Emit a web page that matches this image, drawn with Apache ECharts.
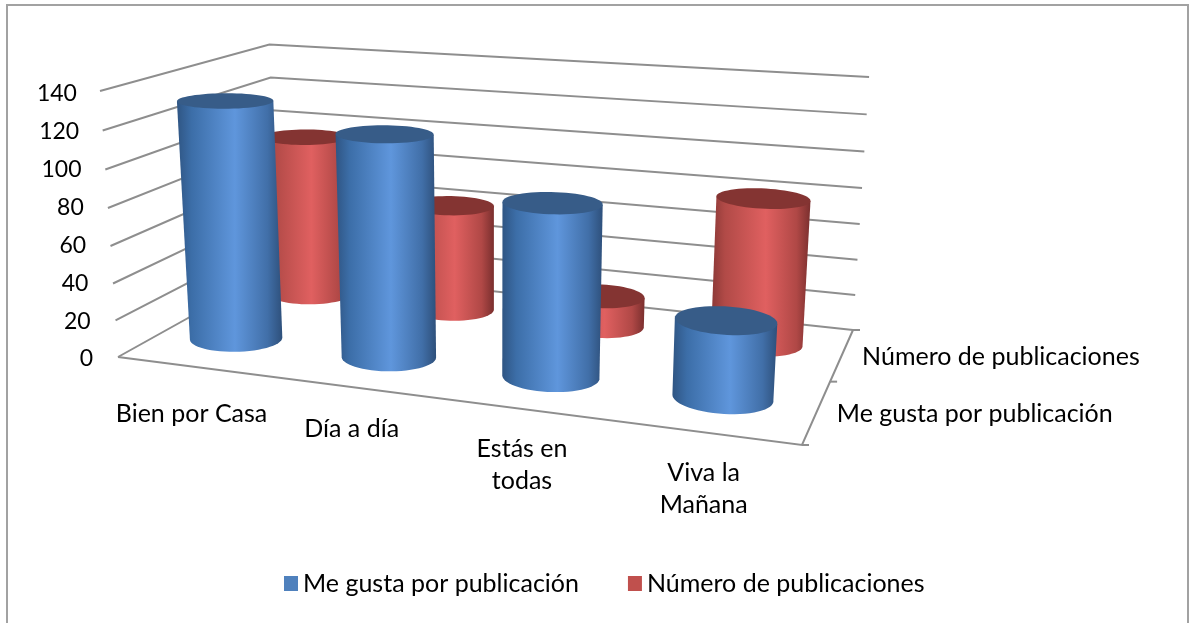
<!DOCTYPE html>
<html>
<head>
<meta charset="utf-8">
<style>
  html, body { margin: 0; padding: 0; background: #fff; }
  #chart { width: 1189px; height: 623px; }
</style>
<script src="https://cdn.jsdelivr.net/npm/echarts@6/dist/echarts.min.js"></script>
</head>
<body>
<div id="chart"></div>
<script>
const categories = ['Bien por Casa', 'Día a día', 'Estás en\ntodas', 'Viva la\nMañana']
const seriesNames = ['Me gusta por publicación', 'Número de publicaciones']
const meGusta = [130, 119, 91, 40]
const publicaciones = [94, 61, 17, 80]
const yTicks = [0, 20, 40, 60, 80, 100, 120, 140]

const FONT = 'Lato, "Open Sans", sans-serif'
const FONT_SIZE = 25
const TICK_FONT_SIZE = 23
const AXIS_COLOR = '#8e8e8e'

// floor corners on screen: [front left, front right, back right, back left]
const floorQuad = [[118, 357], [802, 445], [853, 330], [278, 268]]
// where the vertical edges meet, and how fast height runs towards it
const vertVanish = [497, 5958]
const heightScale = -0.04534
// the back right top corner sits a little off the pure projection
const cornerFix = [0.5, -6.9]
const categoryLabelDy = [31, 25, 24, 24]

function makeFloor(q) {
  const dx1 = q[1][0] - q[2][0], dx2 = q[3][0] - q[2][0], sx = q[0][0] - q[1][0] + q[2][0] - q[3][0]
  const dy1 = q[1][1] - q[2][1], dy2 = q[3][1] - q[2][1], sy = q[0][1] - q[1][1] + q[2][1] - q[3][1]
  const den = dx1 * dy2 - dx2 * dy1
  const g = (sx * dy2 - dx2 * sy) / den
  const h = (dx1 * sy - sx * dy1) / den
  return {
    a: q[1][0] - q[0][0] + g * q[1][0],
    b: q[3][0] - q[0][0] + h * q[3][0],
    d: q[1][1] - q[0][1] + g * q[1][1],
    e: q[3][1] - q[0][1] + h * q[3][1],
    g, h, c: q[0][0], f: q[0][1],
  }
}
const F = makeFloor(floorQuad)

// u along categories, t up the value axis, z into the depth
function project(u, t, z) {
  const k = heightScale * t
  const w = F.g * u + F.h * z + 1 + k
  return [
    (F.a * u + F.b * z + F.c + k * vertVanish[0]) / w + cornerFix[0] * t * u * z,
    (F.d * u + F.e * z + F.f + k * vertVanish[1]) / w + cornerFix[1] * t * u * z,
  ]
}

const styles = [
  {
    label: 0.25,
    depth: 0.27,
    top: '#375c88',
    stops: [[0, '#2f5583'], [0.14, '#3c6ea8'], [0.55, '#5f96dc'], [0.86, '#416fa8'], [1, '#2e507b']],
  },
  {
    label: 0.75,
    depth: 0.77,
    top: '#843432',
    stops: [[0, '#8a3836'], [0.14, '#b14a47'], [0.55, '#e06060'], [0.86, '#b04846'], [1, '#7a2f2e']],
  },
]
const RX = 0.07
const RZ = 0.125
const BAR_SHIFT = -0.007
const STEPS = 60

function ring(uc, zc, t) {
  const pts = []
  for (let k = 0; k < STEPS; k++) {
    const a = (k / STEPS) * Math.PI * 2
    pts.push(project(uc + RX * Math.cos(a), t, zc + RZ * Math.sin(a)))
  }
  return pts
}

function walk(pts, from, to, dir) {
  const out = []
  for (let k = from; ; k = (k + dir + STEPS) % STEPS) {
    out.push(pts[k])
    if (k === to) break
  }
  return out
}

function cylinder(uc, zc, t, style) {
  const top = ring(uc, zc, t)
  const bottom = ring(uc, zc, 0)
  let iL = 0, iR = 0
  bottom.forEach((p, k) => {
    if (p[0] < bottom[iL][0]) iL = k
    if (p[0] > bottom[iR][0]) iR = k
  })
  const arcA = walk(bottom, iR, iL, 1)
  const arcB = walk(bottom, iR, iL, -1)
  const meanY = a => a.reduce((s, p) => s + p[1], 0) / a.length
  const lower = meanY(arcA) > meanY(arcB) ? arcA : arcB
  let tL = 0, tR = 0
  top.forEach((p, k) => {
    if (p[0] < top[tL][0]) tL = k
    if (p[0] > top[tR][0]) tR = k
  })
  return {
    type: 'group',
    children: [
      {
        type: 'polygon',
        shape: { points: [top[tL], top[tR]].concat(lower) },
        style: {
          fill: new echarts.graphic.LinearGradient(0, 0, 1, 0,
            style.stops.map(s => ({ offset: s[0], color: s[1] }))),
        },
      },
      { type: 'polygon', shape: { points: top }, style: { fill: style.top } },
    ],
  }
}

function barRender(style) {
  return (params, api) => {
    const cs = params.coordSys
    const c = api.coord([api.value(0), api.value(1)])
    const uc = (c[0] - cs.x) / cs.width + BAR_SHIFT
    const t = (cs.y + cs.height - c[1]) / cs.height
    return cylinder(uc, style.depth, t, style)
  }
}

// walls and floor lines, one item per value tick
function gridRender(params, api) {
  const cs = params.coordSys
  const t = (cs.y + cs.height - api.coord([0, api.value(1)])[1]) / cs.height
  const children = [{
    type: 'polyline',
    shape: { points: [project(0, t, 0), project(0, t, 1), project(1, t, 1)] },
    style: { stroke: AXIS_COLOR, lineWidth: 2, fill: null },
  }]
  if (t === 0) {
    children.push({
      type: 'polyline',
      shape: { points: [project(0, 0, 0), project(1, 0, 0), project(1, 0, 1)] },
      style: { stroke: AXIS_COLOR, lineWidth: 2, fill: null },
    })
    ;[0, 0.5, 1].forEach(z => {
      const p = project(1, 0, z)
      children.push({
        type: 'line',
        shape: { x1: p[0], y1: p[1], x2: p[0] + 7, y2: p[1] },
        style: { stroke: AXIS_COLOR, lineWidth: 2 },
      })
    })
  }
  return { type: 'group', children }
}

function categoryLabelRender(params, api) {
  const cs = params.coordSys
  const i = api.value(0)
  const c = api.coord([i, 0])
  const p = project((c[0] - cs.x) / cs.width, 0, 0)
  return {
    type: 'text',
    x: p[0] - 3,
    y: p[1] + categoryLabelDy[i],
    style: {
      text: categories[i],
      font: FONT_SIZE + 'px ' + FONT,
      fill: '#000',
      align: 'center',
      verticalAlign: 'top',
      lineHeight: 32,
    },
  }
}

function depthLabelRender(params, api) {
  const p = project(1, 0, styles[api.value(0)].label)
  return {
    type: 'text',
    x: p[0] + 20,
    y: p[1] + 2,
    style: {
      text: seriesNames[api.value(0)],
      font: FONT_SIZE + 'px ' + FONT,
      fill: '#000',
      align: 'left',
      verticalAlign: 'middle',
    },
  }
}

const yRich = {}
yTicks.forEach(v => {
  yRich['t' + v] = { fontFamily: FONT, fontSize: TICK_FONT_SIZE, color: '#000', padding: [0, v * 0.115, 0, 0] }
})

const myChart = echarts.init(document.getElementById('chart'), null, { renderer: 'canvas' })
myChart.setOption({
  animation: false,
  graphic: [{
    type: 'rect',
    silent: true,
    z: -1,
    shape: { x: 7, y: 5, width: 1181, height: 640 },
    style: { fill: '#fff', stroke: '#a2a2a2', lineWidth: 2 },
  }],
  legend: {
    data: seriesNames,
    left: 279,
    top: 566,
    icon: 'rect',
    itemWidth: 14,
    itemHeight: 15,
    itemGap: 49,
    selectedMode: false,
    textStyle: { fontFamily: FONT, fontSize: FONT_SIZE, color: '#000' },
  },
  grid: { left: 100, top: 94, width: 700, height: 265 },
  xAxis: { type: 'category', data: categories, show: false },
  yAxis: {
    type: 'value',
    min: 0,
    max: 140,
    interval: 20,
    axisLine: { show: false },
    axisTick: { show: false },
    splitLine: { show: false },
    axisLabel: { margin: 7, formatter: v => '{t' + v + '|' + v + '}', rich: yRich },
  },
  series: [
    {
      type: 'custom',
      silent: true,
      renderItem: gridRender,
      data: yTicks.map(v => [0, v]),
      encode: { x: 0, y: 1 },
      z: 1,
    },
    {
      type: 'custom',
      silent: true,
      renderItem: categoryLabelRender,
      data: categories.map((c, i) => [i, 0]),
      encode: { x: 0, y: 1 },
      z: 1,
    },
    {
      type: 'custom',
      silent: true,
      renderItem: depthLabelRender,
      data: seriesNames.map((n, i) => [i, 0]),
      encode: { x: 0, y: 1 },
      z: 1,
    },
    {
      name: seriesNames[1],
      type: 'custom',
      renderItem: barRender(styles[1]),
      data: publicaciones.map((v, i) => [i, v]),
      encode: { x: 0, y: 1 },
      itemStyle: { color: '#c0504d' },
      z: 2,
    },
    {
      name: seriesNames[0],
      type: 'custom',
      renderItem: barRender(styles[0]),
      data: meGusta.map((v, i) => [i, v]),
      encode: { x: 0, y: 1 },
      itemStyle: { color: '#4f81bd' },
      z: 3,
    },
  ],
})
</script>
</body>
</html>
